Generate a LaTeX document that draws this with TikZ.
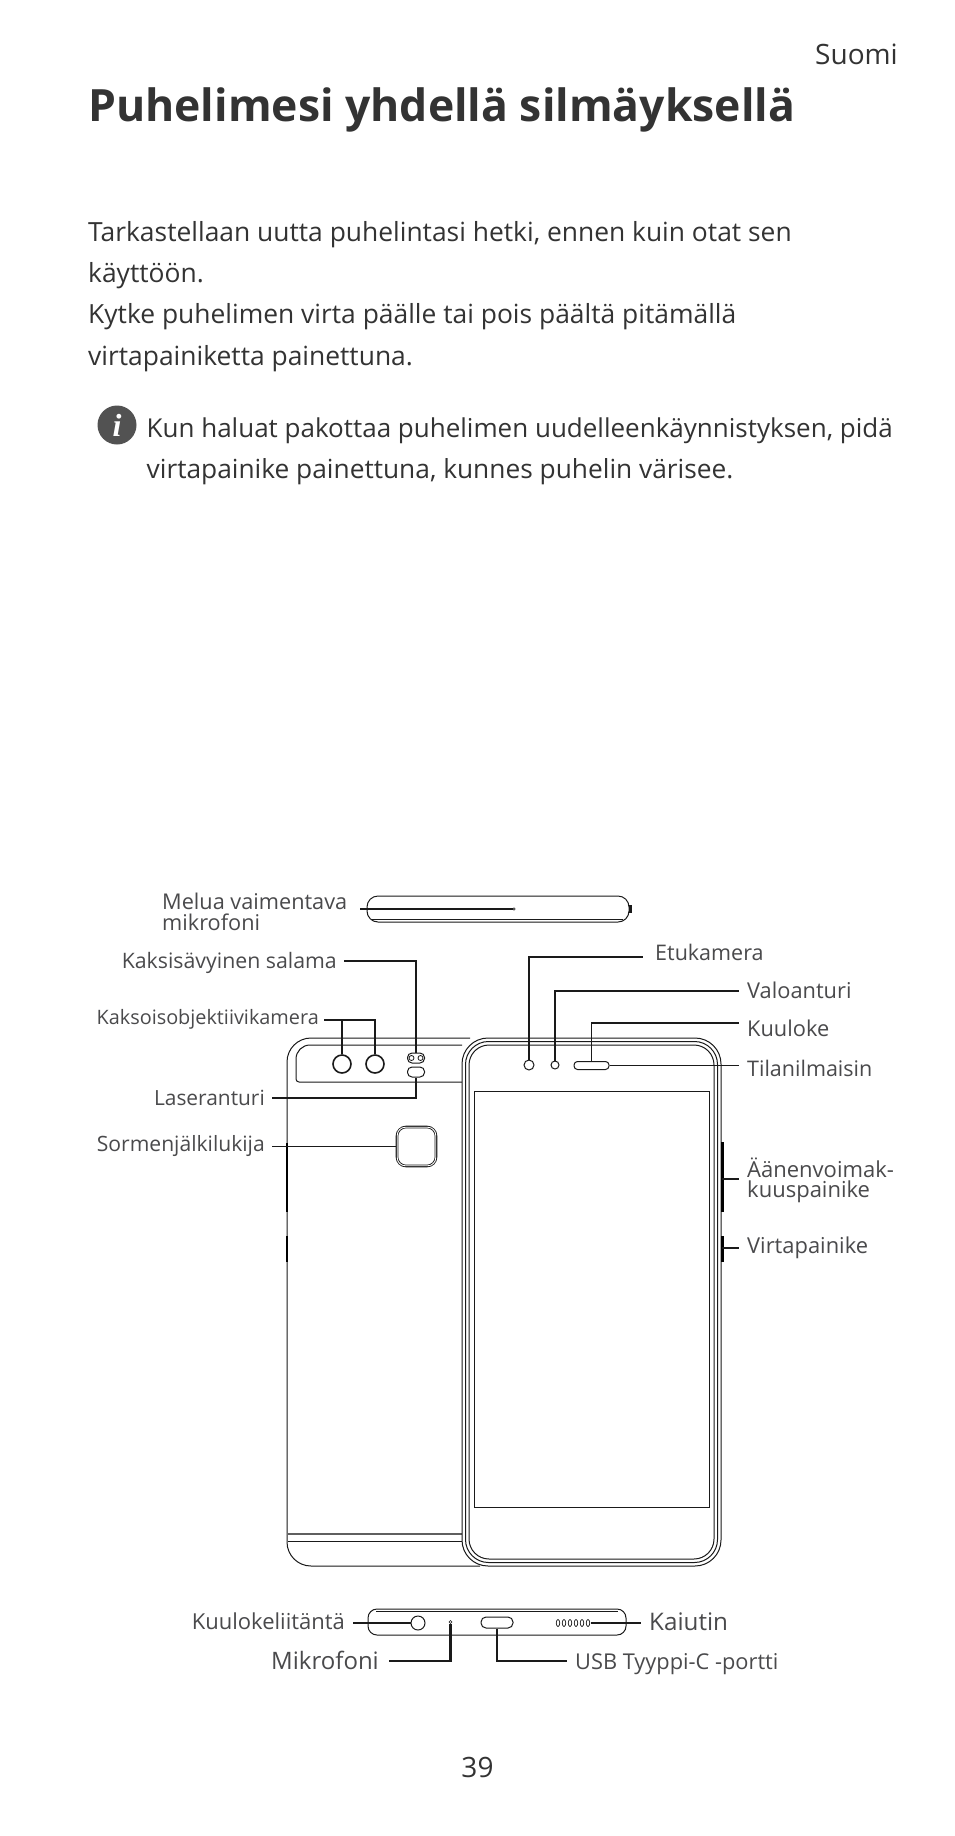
\documentclass[tikz,border=0pt]{standalone}
\usepackage{fontspec}
\setmainfont{Open Sans}
\newfontfamily\iconfont{Liberation Serif}
\usepackage{xcolor}
\usetikzlibrary{calc,positioning,shapes.geometric}
\definecolor{inkbody}{HTML}{333333}
\definecolor{inklabel}{HTML}{4A4A4C}
\definecolor{inkline}{HTML}{1A1A1A}
\tikzset{
  pagetext/.style={inner sep=0pt, anchor=base west, text=inkbody, font=\fontsize{26.4}{26.4}\selectfont},
  notetext/.style={pagetext, font=\fontsize{26}{26}\selectfont},
  partlabel/.style={inner sep=0pt, text=inklabel, font=\fontsize{21.5}{21.5}\selectfont},
  outline/.style={draw=inkline, line width=1pt},
  leader/.style={draw=inkline, line width=2.1pt},
  thinleader/.style={draw=inkline, line width=1.4pt},
  hole/.style={circle, draw=inkline, fill=white, inner sep=0pt},
  slot/.style={draw=inkline, fill=white, line width=1pt, rectangle, inner sep=0pt},
  keyside/.style={draw=black, line width=2.6pt},
}
\begin{document}
\begin{tikzpicture}[x=1pt, y=-1pt]

\useasboundingbox[fill=white] (0,0) rectangle (954,1836);

%% Page text
\node[pagetext, anchor=base east, font=\fontsize{28}{28}\selectfont] (lang) at (898,64) {Suomi};
\node[pagetext, font=\fontsize{44.5}{44.5}\selectfont\bfseries] (title) at (88,121) {Puhelimesi yhdellä silmäyksellä};
\node[pagetext] (paraa) at (88,241) {Tarkastellaan uutta puhelintasi hetki, ennen kuin otat sen};
\node[pagetext] (parab) at (88,282) {käyttöön.};
\node[pagetext] (parac) at (88,323) {Kytke puhelimen virta päälle tai pois päältä pitämällä};
\node[pagetext] (parad) at (88,365) {virtapainiketta painettuna.};
\node[circle, fill=inkbody!85!white, minimum size=39pt, inner sep=0pt, text=white,
      font=\iconfont\fontsize{32}{32}\selectfont\bfseries\itshape] (infoicon) at (117,425) {i};
\node[notetext] (notea) at (146.5,437) {Kun haluat pakottaa puhelimen uudelleenkäynnistyksen, pidä};
\node[notetext, font=\fontsize{26.3}{26.3}\selectfont] (noteb) at (146.5,478) {virtapainike painettuna, kunnes puhelin värisee.};
\node[pagetext, anchor=base, font=\fontsize{28}{28}\selectfont] (pagenum) at (477.5,1777) {39};

%% Top edge
\draw[outline, rounded corners=11] (367,896) rectangle (629,922);
\draw[outline, thin] (372,919) -- (623,919);
\fill[inkline] (629,905) rectangle (632,913);
\node[hole, minimum size=2.5pt, line width=0.5pt] (topmic) at (514,909) {};

%% Back of the phone
\draw[outline] (470,1038) [rounded corners=24]-- (287,1038) -- (287,1566) -- (480,1566);
\draw[outline] (462,1045) [rounded corners=14]-- (296,1045) [rounded corners=3]-- (296,1082) [sharp corners]-- (462,1082);
\draw[outline, line width=1.3pt, draw=inkline!70] (288,1534) -- (463,1534);
\draw[outline] (288,1541) -- (463,1541);
\draw[keyside] (287,1143) -- (287,1212);
\draw[keyside] (287,1236) -- (287,1262);

\node[hole, minimum size=18pt, line width=1.6pt] (backcama) at (342,1064) {};
\node[hole, minimum size=18pt, line width=1.6pt] (backcamb) at (375,1064) {};
\node[slot, rounded corners=4.5pt, minimum width=17pt, minimum height=10pt] (flash) at (416,1058) {};
\node[hole, minimum size=5pt, line width=0.8pt] at (411.5,1058) {};
\node[hole, minimum size=5pt, line width=0.8pt] at (420.5,1058) {};
\node[slot, rounded corners=4.5pt, minimum width=17pt, minimum height=10pt] (laser) at (416,1072) {};
\node[slot, rounded corners=9pt, minimum width=39pt, minimum height=39pt, line width=2.6pt] (finger) at (416.5,1146.5) {};
\node[rectangle, draw=white, rounded corners=8pt, minimum width=38.5pt, minimum height=38.5pt,
      line width=0.9pt, inner sep=0pt] at (416.5,1146.5) {};

%% Front of the phone
\foreach \i/\r in {0/26, 3.5/23, 7/20}{
  \draw[outline, fill=white, rounded corners=\r] (462+\i,1038+\i) rectangle (721-\i,1566-\i);
}
\node[rectangle, draw=inkline, line width=1pt, inner sep=0pt, minimum width=235pt, minimum height=416pt] (screen) at (591.5,1299) {};
\node[hole, minimum size=10pt, line width=1pt] (frontcam) at (529,1065) {};
\node[hole, minimum size=8pt, line width=1pt] (lightsensor) at (555,1065) {};
\node[slot, rounded corners=3.5pt, minimum width=35pt, minimum height=8pt] (earpiece) at (591.5,1065.5) {};
\draw[keyside] (722.3,1142) -- (722.3,1212);
\draw[keyside] (722.3,1236) -- (722.3,1262);
\coordinate (volkey) at (722.3,1179);
\coordinate (powerkey) at (722.3,1248);

%% Bottom edge
\draw[outline, rounded corners=9] (368,1609) rectangle (626,1635);
\draw[outline, thin] (376,1611.5) -- (618,1611.5);
\node[hole, minimum size=14pt, line width=1pt] (jack) at (418,1623) {};
\node[hole, minimum size=3pt, line width=0.6pt] (botmic) at (450.5,1622) {};
\node[slot, rounded corners=5pt, minimum width=32pt, minimum height=11pt] (usbport) at (497,1622.5) {};
\foreach \x in {558,564,570,576,582,588}{
  \node[ellipse, draw=inkline, line width=0.7pt, inner sep=0pt, minimum width=3.5pt, minimum height=7pt] at (\x,1623) {};
}
\coordinate (speaker) at (591,1623);

%% Labels on the left
\node[partlabel, anchor=north west, align=left, font=\fontsize{21.7}{20.5}\selectfont] (lblnoise) at (162,893) {Melua vaimentava\\mikrofoni};
\node[partlabel, anchor=base east, font=\fontsize{21.3}{21.3}\selectfont] (lblflash) at (337,968) {Kaksisävyinen salama};
\node[partlabel, anchor=base east, font=\fontsize{19.85}{19.85}\selectfont] (lbldual) at (319,1024) {Kaksoisobjektiivikamera};
\node[partlabel, anchor=base east, font=\fontsize{20.9}{20.9}\selectfont] (lbllaser) at (265,1105) {Laseranturi};
\node[partlabel, anchor=base east, font=\fontsize{21.1}{21.1}\selectfont] (lblfinger) at (265,1151) {Sormenjälkilukija};
\node[partlabel, anchor=base east, font=\fontsize{22}{22}\selectfont] (lbljack) at (345,1629) {Kuulokeliitäntä};
\node[partlabel, anchor=base east, font=\fontsize{24}{24}\selectfont] (lblmic) at (379,1669) {Mikrofoni};

%% Labels on the right
\node[partlabel, anchor=base west] (lblfront) at (655,960) {Etukamera};
\node[partlabel, anchor=base west, font=\fontsize{21.8}{21.8}\selectfont] (lbllight) at (747,998) {Valoanturi};
\node[partlabel, anchor=base west, font=\fontsize{21.8}{21.8}\selectfont] (lblear) at (747,1036) {Kuuloke};
\node[partlabel, anchor=base west] (lblstatus) at (747,1076) {Tilanilmaisin};
\node[partlabel, anchor=north west, align=left, font=\fontsize{22}{19.5}\selectfont] (lblvolume) at (747,1158) {Äänenvoimak-\\kuuspainike};
\node[partlabel, anchor=base west, font=\fontsize{21.9}{21.9}\selectfont] (lblpower) at (747,1253) {Virtapainike};
\node[partlabel, anchor=base west, font=\fontsize{24.2}{24.2}\selectfont] (lblspeaker) at (649,1630) {Kaiutin};
\node[partlabel, anchor=base west, font=\fontsize{21.8}{21.8}\selectfont] (lblusb) at (575,1669) {USB Tyyppi-C -portti};

%% Connectors
\draw[leader] ($(lblnoise.east |- topmic)+(13,0)$) -- (topmic.west);
\draw[leader] ($(lblflash.east |- 0,961)+(7,0)$) -| (flash.north);
\draw[thinleader] ($(lbldual.east |- 0,1020)+(5,0)$) -| (backcamb.north);
\draw[leader] (backcama.north |- 0,1021) -- (backcama.north);
\draw[leader] ($(lbllaser.east |- 0,1098)+(7,0)$) -| (laser.south);
\draw[thinleader] ($(finger.west -| lblfinger.east)+(7,0)$) -- (finger.west);
\draw[leader] (frontcam.north) |- ($(lblfront.west |- 0,957)+(-12,0)$);
\draw[leader] (lightsensor.north) |- ($(lbllight.west |- 0,991)+(-8,0)$);
\draw[thinleader] (earpiece.north) |- ($(lblear.west |- 0,1023)+(-8,0)$);
\draw[thinleader] (earpiece.east) -- ($(earpiece.east -| lblstatus.west)+(-8,0)$);
\draw[thinleader] (volkey) -- ($(volkey -| lblvolume.west)+(-8,0)$);
\draw[thinleader] (powerkey) -- ($(powerkey -| lblpower.west)+(-8,0)$);
\draw[leader] ($(jack.west -| lbljack.east)+(8,0)$) -- (jack.west);
\draw[leader] (botmic.south) |- ($(lblmic.east |- 0,1661)+(10,0)$);
\draw[leader] (usbport.south) |- ($(lblusb.west |- 0,1661)+(-8,0)$);
\draw[leader] (speaker) -- ($(speaker -| lblspeaker.west)+(-8,0)$);

\end{tikzpicture}
\end{document}
